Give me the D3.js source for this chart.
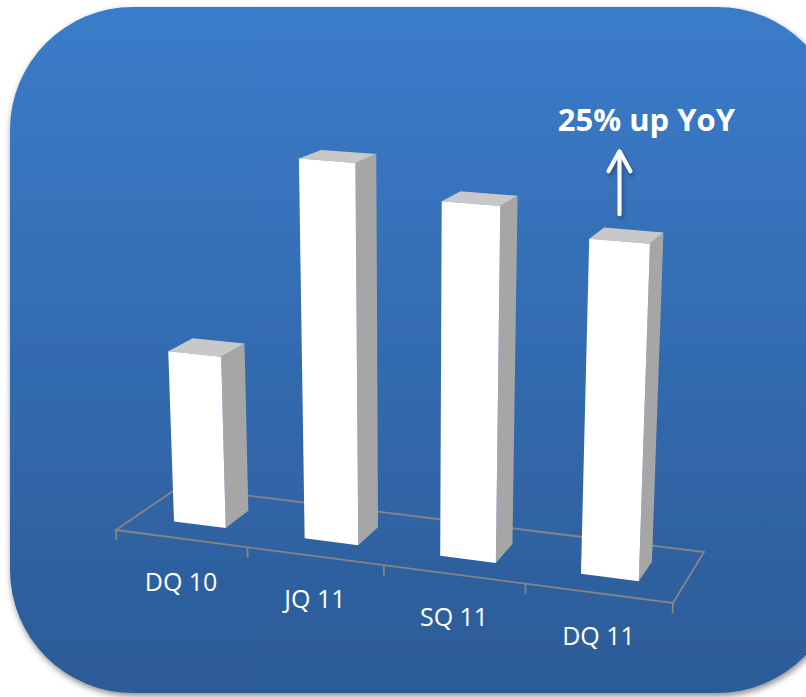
<!DOCTYPE html>
<html>
<head>
<meta charset="utf-8">
<script src="https://cdn.jsdelivr.net/npm/d3@7"></script>
<style>
  html, body { margin: 0; padding: 0; background: #ffffff; }
  svg { display: block; }
</style>
</head>
<body>
<svg id="chart" width="806" height="697"></svg>
<script>
// Quarterly figures shown as 3D columns
const categories = ["DQ 10", "JQ 11", "SQ 11", "DQ 11"];
const values = [100, 134, 129, 125];
const valueDomain = [70, 140];
const annotationText = "25% up YoY";

const W = 806, H = 697;
const svg = d3.select("#chart");
const defs = svg.append("defs");

// Panel gradient and shadow
const grad = defs.append("linearGradient").attr("id", "panelGrad")
  .attr("x1", 0).attr("y1", 0).attr("x2", 0).attr("y2", 1);
grad.append("stop").attr("offset", "0%").attr("stop-color", "#3b7cca");
grad.append("stop").attr("offset", "100%").attr("stop-color", "#2c5b97");

const sh = defs.append("filter").attr("id", "panelShadow")
  .attr("x", "-10%").attr("y", "-10%").attr("width", "120%").attr("height", "120%");
sh.append("feDropShadow").attr("dx", 1).attr("dy", 3).attr("stdDeviation", 3)
  .attr("flood-color", "#000").attr("flood-opacity", 0.45);

const ash = defs.append("filter").attr("id", "arrowShadow")
  .attr("x", "-100%").attr("y", "-20%").attr("width", "300%").attr("height", "140%");
ash.append("feDropShadow").attr("dx", 1.5).attr("dy", 3).attr("stdDeviation", 2)
  .attr("flood-color", "#000").attr("flood-opacity", 0.35);

svg.append("rect")
  .attr("x", 10).attr("y", 7).attr("width", 830).attr("height", 686)
  .attr("rx", 123).attr("ry", 123)
  .attr("fill", "url(#panelGrad)")
  .attr("filter", "url(#panelShadow)");

// ---- Perspective frame: floor corners on screen (front-left, front-right, back-right, back-left)
const floorFrame = [[116, 530], [673, 603], [704, 552], [179, 487]];
const vanish = [410, 7500];   // vertical vanishing point (below the view)
const refY = 540;             // height units are ~1px near this screen row

// Unit square -> quad homography (u along categories, v into depth)
const [[x0, y0], [x1, y1], [x2, y2], [x3, y3]] = floorFrame;
const dx1 = x1 - x2, dx2 = x3 - x2, dx3 = x0 - x1 + x2 - x3;
const dy1 = y1 - y2, dy2 = y3 - y2, dy3 = y0 - y1 + y2 - y3;
const den = dx1 * dy2 - dx2 * dy1;
const g = (dx3 * dy2 - dx2 * dy3) / den;
const h = (dx1 * dy3 - dx3 * dy1) / den;
const A = x1 - x0 + g * x1, B = x3 - x0 + h * x3, C = x0;
const D = y1 - y0 + g * y1, E = y3 - y0 + h * y3, F = y0;
const K = vanish[1] - refY;
const kx = -vanish[0] / K, ky = -vanish[1] / K, kw = -1 / K;

function project(u, y, v) {
  const w = g * u + h * v + 1 + kw * y;
  return [(A * u + B * v + C + kx * y) / w, (D * u + E * v + F + ky * y) / w];
}

// Scales in world space
const xBand = d3.scaleBand().domain(categories).range([0, 1])
  .paddingInner(0.6).paddingOuter(0.3);
const yScale = d3.scaleLinear().domain(valueDomain).range([0, 392]);
const depth = [0.3, 0.69];

const line = d3.line();
const poly = pts => line(pts) + "Z";

// Floor outline
const floor = svg.append("g").attr("class", "floor")
  .attr("fill", "none").attr("stroke", "#858585").attr("stroke-width", 1.8);
floor.append("path")
  .attr("d", poly([project(0, 0, 0), project(1, 0, 0), project(1, 0, 1), project(0, 0, 1)]));

// Category boundary ticks along the front edge
const boundaries = d3.range(categories.length + 1).map(i => i * xBand.step());
floor.selectAll("line.tick").data(boundaries).join("line")
  .attr("class", "tick")
  .attr("x1", d => project(d, 0, 0)[0]).attr("y1", d => project(d, 0, 0)[1])
  .attr("x2", d => project(d, -10, 0)[0]).attr("y2", d => project(d, -10, 0)[1]);

// Columns: front, right side and top faces
const rows = categories.map((c, i) => ({ cat: c, value: values[i] }));
const bars = svg.append("g").attr("class", "bars")
  .selectAll("g").data(rows).join("g");

function corners(d) {
  const u0 = xBand(d.cat), u1 = u0 + xBand.bandwidth();
  const [v0, v1] = depth;
  const t = yScale(d.value);
  return { u0, u1, v0, v1, t };
}

bars.append("path")   // right side
  .attr("fill", "#a6a6a6")
  .attr("d", d => {
    const c = corners(d);
    return poly([project(c.u1, 0, c.v0), project(c.u1, 0, c.v1),
                 project(c.u1, c.t, c.v1), project(c.u1, c.t, c.v0)]);
  });
bars.append("path")   // top
  .attr("fill", "#c8c8c8")
  .attr("d", d => {
    const c = corners(d);
    return poly([project(c.u0, c.t, c.v0), project(c.u1, c.t, c.v0),
                 project(c.u1, c.t, c.v1), project(c.u0, c.t, c.v1)]);
  });
bars.append("path")   // front
  .attr("fill", "#ffffff")
  .attr("d", d => {
    const c = corners(d);
    return poly([project(c.u0, 0, c.v0), project(c.u1, 0, c.v0),
                 project(c.u1, c.t, c.v0), project(c.u0, c.t, c.v0)]);
  });

// Category labels below the front edge
svg.append("g").attr("class", "labels")
  .selectAll("text").data(categories).join("text")
  .attr("x", d => project(xBand(d) + xBand.bandwidth() / 2, 0, 0)[0])
  .attr("y", d => project(xBand(d) + xBand.bandwidth() / 2, 0, 0)[1] + 52)
  .attr("text-anchor", "middle")
  .attr("font-family", "'Open Sans', sans-serif")
  .attr("font-size", 25)
  .attr("fill", "#ffffff")
  .text(d => d);

// Growth callout above the last column
const last = rows[rows.length - 1];
const lc = corners(last);
const topFront = project((lc.u0 + lc.u1) / 2, lc.t, lc.v0);
const ax = topFront[0], aBottom = topFront[1] - 27, aTop = aBottom - 63;

const arrow = svg.append("g").attr("class", "callout-arrow")
  .attr("stroke", "#ffffff").attr("stroke-width", 4).attr("fill", "none")
  .attr("stroke-linecap", "round").attr("stroke-linejoin", "round")
  .attr("filter", "url(#arrowShadow)");
arrow.append("line").attr("x1", ax).attr("y1", aBottom).attr("x2", ax).attr("y2", aTop + 1);
arrow.append("path").attr("d", line([[ax - 11, aTop + 20], [ax, aTop], [ax + 11, aTop + 20]]));

svg.append("text")
  .attr("x", ax + 27).attr("y", aTop - 20)
  .attr("text-anchor", "middle")
  .attr("font-family", "'Open Sans', sans-serif")
  .attr("font-weight", "bold")
  .attr("font-size", 31)
  .attr("fill", "#ffffff")
  .text(annotationText);
</script>
</body>
</html>
